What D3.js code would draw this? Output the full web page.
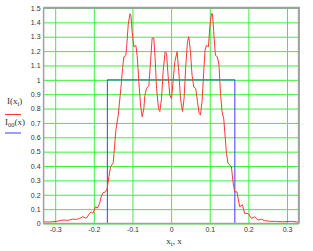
<!DOCTYPE html>
<html>
<head>
<meta charset="utf-8">
<script src="https://cdn.jsdelivr.net/npm/d3@7"></script>
<style>
html,body{margin:0;padding:0;background:#fff;}
svg{display:block;}
</style>
</head>
<body>
<svg id="chart" width="313" height="251"></svg>
<script>
// Sampled intensity I(x_i)
const xi = [-0.3315,-0.3186,-0.3057,-0.2928,-0.2798,-0.2669,-0.2540,-0.2455,-0.2367,-0.2282,-0.2196,-0.2109,-0.2067,-0.2023,-0.1953,-0.1912,-0.1850,-0.1809,-0.1765,-0.1695,-0.1654,-0.1610,-0.1566,-0.1499,-0.1429,-0.1370,-0.1300,-0.1256,-0.1222,-0.1171,-0.1153,-0.1111,-0.1067,-0.1041,-0.1008,-0.0964,-0.0912,-0.0879,-0.0835,-0.0791,-0.0749,-0.0705,-0.0680,-0.0636,-0.0576,-0.0532,-0.0491,-0.0447,-0.0413,-0.0377,-0.0326,-0.0292,-0.0248,-0.0207,-0.0155,-0.0119,-0.0078,-0.0034,0.0010,0.0052,0.0096,0.0155,0.0199,0.0243,0.0295,0.0336,0.0380,0.0424,0.0457,0.0501,0.0543,0.0587,0.0638,0.0682,0.0724,0.0760,0.0801,0.0845,0.0879,0.0915,0.0966,0.1000,0.1044,0.1070,0.1103,0.1147,0.1199,0.1240,0.1276,0.1318,0.1362,0.1432,0.1473,0.1561,0.1602,0.1646,0.1705,0.1775,0.1845,0.1904,0.1990,0.2078,0.2163,0.2248,0.2336,0.2421,0.2550,0.2724,0.2894,0.3111,0.3282];
const Ii = [0.012,0.010,0.012,0.017,0.024,0.022,0.031,0.028,0.036,0.047,0.036,0.070,0.082,0.070,0.117,0.106,0.140,0.186,0.214,0.220,0.245,0.326,0.395,0.420,0.650,0.750,0.94,1.08,1.16,1.17,1.22,1.38,1.46,1.45,1.335,1.23,1.24,1.17,0.99,0.825,0.743,0.80,0.89,0.94,0.96,1.126,1.29,1.29,1.15,0.94,0.80,0.78,0.87,1.056,1.195,1.185,1.03,0.894,0.87,0.99,1.126,1.195,1.056,0.87,0.78,0.87,1.10,1.265,1.30,1.195,1.03,0.95,0.94,0.85,0.767,0.755,0.85,1.056,1.207,1.24,1.23,1.36,1.46,1.46,1.335,1.17,1.16,1.10,0.917,0.78,0.73,0.49,0.42,0.395,0.29,0.22,0.22,0.117,0.13,0.07,0.07,0.036,0.047,0.024,0.030,0.020,0.015,0.015,0.012,0.015,0.010];
// Ideal profile I00(x)
const x00 = [-0.33,-0.165,-0.165,0.165,0.165,0.33];
const I00 = [0,0,1,1,0,0];
// Ticks
const xTicks = [-0.3,-0.2,-0.1,0,0.1,0.2,0.3];
const xTickLabels = ["-0.3","-0.2","-0.1","0","0.1","0.2","0.3"];
const yTicks = [0,0.1,0.2,0.3,0.4,0.5,0.6,0.7,0.8,0.9,1,1.1,1.2,1.3,1.4,1.5];
const yTickLabels = ["0","0.1","0.2","0.3","0.4","0.5","0.6","0.7","0.8","0.9","1","1.1","1.2","1.3","1.4","1.5"];

const svg = d3.select("#chart");
const L = 43.6, R = 298.6, T = 8, B = 223.5;
const x = d3.scaleLinear().domain([-0.33, 0.33]).range([L, R]);
const y = d3.scaleLinear().domain([0, 1.5]).range([B, T]);

const green = "#3cf03c";
// grid + labels via axes
const gx = svg.append("g").attr("transform", `translate(0,${B})`)
  .call(d3.axisBottom(x).tickValues(xTicks).tickFormat((d,i)=>xTickLabels[i])
        .tickSizeInner(-(B-T)).tickSizeOuter(0).tickPadding(3.5));
const gy = svg.append("g").attr("transform", `translate(${L},0)`)
  .call(d3.axisLeft(y).tickValues(yTicks).tickFormat((d,i)=>yTickLabels[i])
        .tickSizeInner(-(R-L)).tickSizeOuter(0).tickPadding(3));
[gx, gy].forEach(g => {
  g.select(".domain").remove();
  g.selectAll(".tick line").attr("stroke", green).attr("stroke-width", 1);
  g.selectAll(".tick text").attr("fill", "#333")
    .style("font-family", "'Liberation Sans', Arial, sans-serif").style("font-size", "7px");
});

// I00 blue
const line = d3.line().x(d => x(d[0])).y(d => y(d[1]));
svg.append("path").datum(x00.map((v,i)=>[v,I00[i]]))
  .attr("d", line).attr("fill","none").attr("stroke","#3c3cff").attr("stroke-width",1);
// I red
svg.append("path").datum(xi.map((v,i)=>[v,Ii[i]]))
  .attr("d", line).attr("fill","none").attr("stroke","#ff3838").attr("stroke-width",1);

// frame
svg.append("rect").attr("x",L).attr("y",T).attr("width",R-L).attr("height",B-T)
  .attr("fill","none").attr("stroke","#a0a0a0").attr("stroke-width",1.5);
svg.append("line").attr("x1",L).attr("x2",R+1).attr("y1",T-0.5).attr("y2",T-0.5)
  .attr("stroke","#a0a0a0").attr("stroke-width",1.5);
svg.append("line").attr("x1",R+0.5).attr("x2",R+0.5).attr("y1",T-1).attr("y2",B)
  .attr("stroke","#a0a0a0").attr("stroke-width",1.5);

// legend
const serif = "'Liberation Serif', 'Times New Roman', serif";
const t1 = svg.append("text").attr("x",7).attr("y",104).attr("fill","#333")
  .style("font-family",serif).style("font-size","9px");
t1.append("tspan").text("I(x");
t1.append("tspan").attr("dy",2).style("font-size","6.5px").text("i");
t1.append("tspan").attr("dy",-2).text(")");
svg.append("line").attr("x1",5).attr("x2",21).attr("y1",114.5).attr("y2",114.5)
  .attr("stroke","#ff3838").attr("stroke-width",1);
const t2 = svg.append("text").attr("x",5).attr("y",125).attr("fill","#333")
  .style("font-family",serif).style("font-size","9px");
t2.append("tspan").text("I");
t2.append("tspan").attr("dy",2).style("font-size","6.5px").text("00");
t2.append("tspan").attr("dy",-2).text("(x)");
svg.append("line").attr("x1",5).attr("x2",21).attr("y1",133).attr("y2",133)
  .attr("stroke","#3c3cff").attr("stroke-width",1);

// x-axis title
const t3 = svg.append("text").attr("x",174).attr("y",244).attr("text-anchor","middle").attr("fill","#333")
  .style("font-family",serif).style("font-size","9px");
t3.append("tspan").text("x");
t3.append("tspan").attr("dy",2).style("font-size","6.5px").text("i");
t3.append("tspan").attr("dy",-2).text(", x");
</script>
</body>
</html>
